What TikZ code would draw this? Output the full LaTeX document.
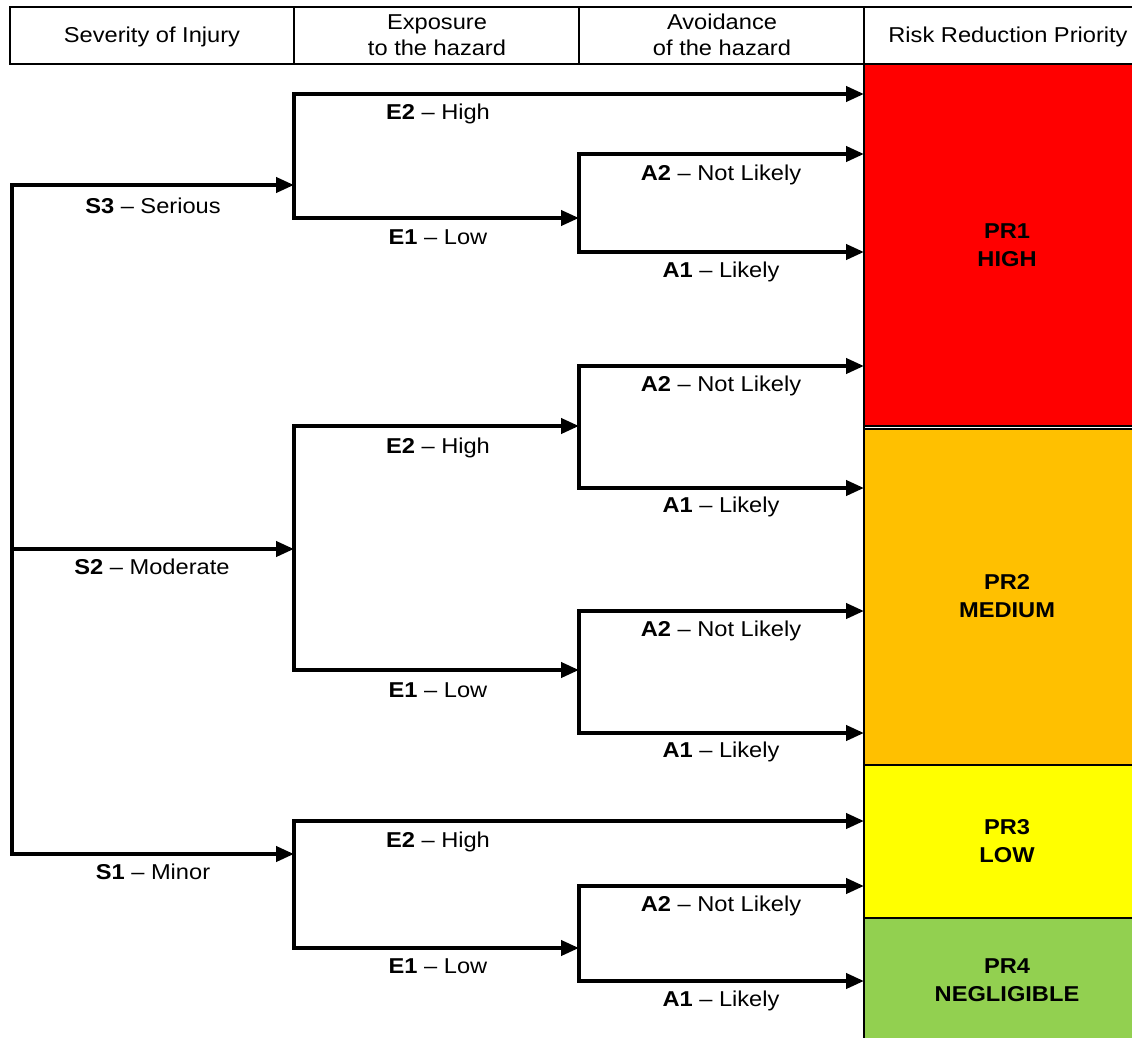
\documentclass[tikz,border=0pt]{standalone}
\usepackage{fontspec}
\setmainfont{Liberation Sans}[FakeStretch=1.1]
\usetikzlibrary{arrows.meta}
\definecolor{prred}{HTML}{FF0000}
\definecolor{prorange}{HTML}{FFC000}
\definecolor{pryellow}{HTML}{FFFF00}
\definecolor{prgreen}{HTML}{92D050}
\begin{document}
\begin{tikzpicture}[x=1pt,y=-1pt,
  branch/.style={line width=4pt,line join=miter,-{Triangle[length=18pt,width=15pt]}},
  lbl/.style={font=\fontsize{21.5}{26}\selectfont,inner sep=0pt,anchor=base},
  hdr/.style={font=\fontsize{21.5}{26}\selectfont,inner sep=0pt,align=center},
  prbox/.style={draw=black,line width=1.5pt},
  prtxt/.style={font=\fontsize{21.5}{28}\selectfont\bfseries,inner sep=0pt,align=center}]
\useasboundingbox (0,0) rectangle (1132,1038);
\clip (0,0) rectangle (1132,1038);
% priority column
\path[prbox,fill=prred] (864,64) rectangle (1140,426);
\path[prbox,fill=prorange] (864,429) rectangle (1140,765);
\path[prbox,fill=pryellow] (864,765) rectangle (1140,918);
\path[prbox,fill=prgreen] (864,918) rectangle (1140,1045);
\draw[line width=2pt] (864,64) -- (864,1045);
\node[prtxt] (pr1) at (1007,245) {PR1\\HIGH};
\node[prtxt] (pr2) at (1007,596) {PR2\\MEDIUM};
\node[prtxt] (pr3) at (1007,841) {PR3\\LOW};
\node[prtxt] (pr4) at (1007,980) {PR4\\NEGLIGIBLE};
% header
\draw[line width=2pt] (10,7) rectangle (1140,64);
\draw[line width=2pt] (294,7) -- (294,64) (579,7) -- (579,64) (864,7) -- (864,64);
\node[hdr] (h1) at (152,37) {Severity of Injury};
\node[hdr] (h2) at (437,35) {Exposure\\to the hazard};
\node[hdr] (h3) at (722,35) {Avoidance\\of the hazard};
\node[hdr] (h4) at (1008,37) {Risk Reduction Priority};
% junctions
\coordinate (S) at (12,549);
\coordinate (J3) at (294,185);
\coordinate (J2) at (294,549);
\coordinate (J1) at (294,854);
\coordinate (K3) at (579,218);
\coordinate (K2a) at (579,426);
\coordinate (K2b) at (579,670);
\coordinate (K1) at (579,948);
% end points on the priority column
\coordinate (T3e2) at (864,94);
\coordinate (T3a2) at (864,154);
\coordinate (T3a1) at (864,252);
\coordinate (T2a2a) at (864,366);
\coordinate (T2a1a) at (864,488);
\coordinate (T2a2b) at (864,611);
\coordinate (T2a1b) at (864,733);
\coordinate (T1e2) at (864,821);
\coordinate (T1a2) at (864,886);
\coordinate (T1a1) at (864,981);
% severity
\draw[branch] (S) |- (J3);
\draw[branch] (S) -- (J2);
\draw[branch] (S) |- (J1);
% S3
\draw[branch] (J3) |- (T3e2);
\draw[branch] (J3) |- (K3);
\draw[branch] (K3) |- (T3a2);
\draw[branch] (K3) |- (T3a1);
% S2
\draw[branch] (J2) |- (K2a);
\draw[branch] (J2) |- (K2b);
\draw[branch] (K2a) |- (T2a2a);
\draw[branch] (K2a) |- (T2a1a);
\draw[branch] (K2b) |- (T2a2b);
\draw[branch] (K2b) |- (T2a1b);
% S1
\draw[branch] (J1) |- (T1e2);
\draw[branch] (J1) |- (K1);
\draw[branch] (K1) |- (T1a2);
\draw[branch] (K1) |- (T1a1);
% labels
\node[lbl] (ls3) at (153,213) {\textbf{S3} – Serious};
\node[lbl] (ls2) at (152,574) {\textbf{S2} – Moderate};
\node[lbl] (ls1) at (153,879) {\textbf{S1} – Minor};
\node[lbl] (l3e2) at (438,120) {\textbf{E2} – High};
\node[lbl] (l3e1) at (438,244) {\textbf{E1} – Low};
\node[lbl] (l3a2) at (721,180) {\textbf{A2} – Not Likely};
\node[lbl] (l3a1) at (721,277) {\textbf{A1} – Likely};
\node[lbl] (l2e2) at (438,453) {\textbf{E2} – High};
\node[lbl] (l2a2a) at (721,391) {\textbf{A2} – Not Likely};
\node[lbl] (l2a1a) at (721,512) {\textbf{A1} – Likely};
\node[lbl] (l2e1) at (438,697) {\textbf{E1} – Low};
\node[lbl] (l2a2b) at (721,636) {\textbf{A2} – Not Likely};
\node[lbl] (l2a1b) at (721,757) {\textbf{A1} – Likely};
\node[lbl] (l1e2) at (438,847) {\textbf{E2} – High};
\node[lbl] (l1e1) at (438,973) {\textbf{E1} – Low};
\node[lbl] (l1a2) at (721,911) {\textbf{A2} – Not Likely};
\node[lbl] (l1a1) at (721,1006) {\textbf{A1} – Likely};
\end{tikzpicture}
\end{document}
